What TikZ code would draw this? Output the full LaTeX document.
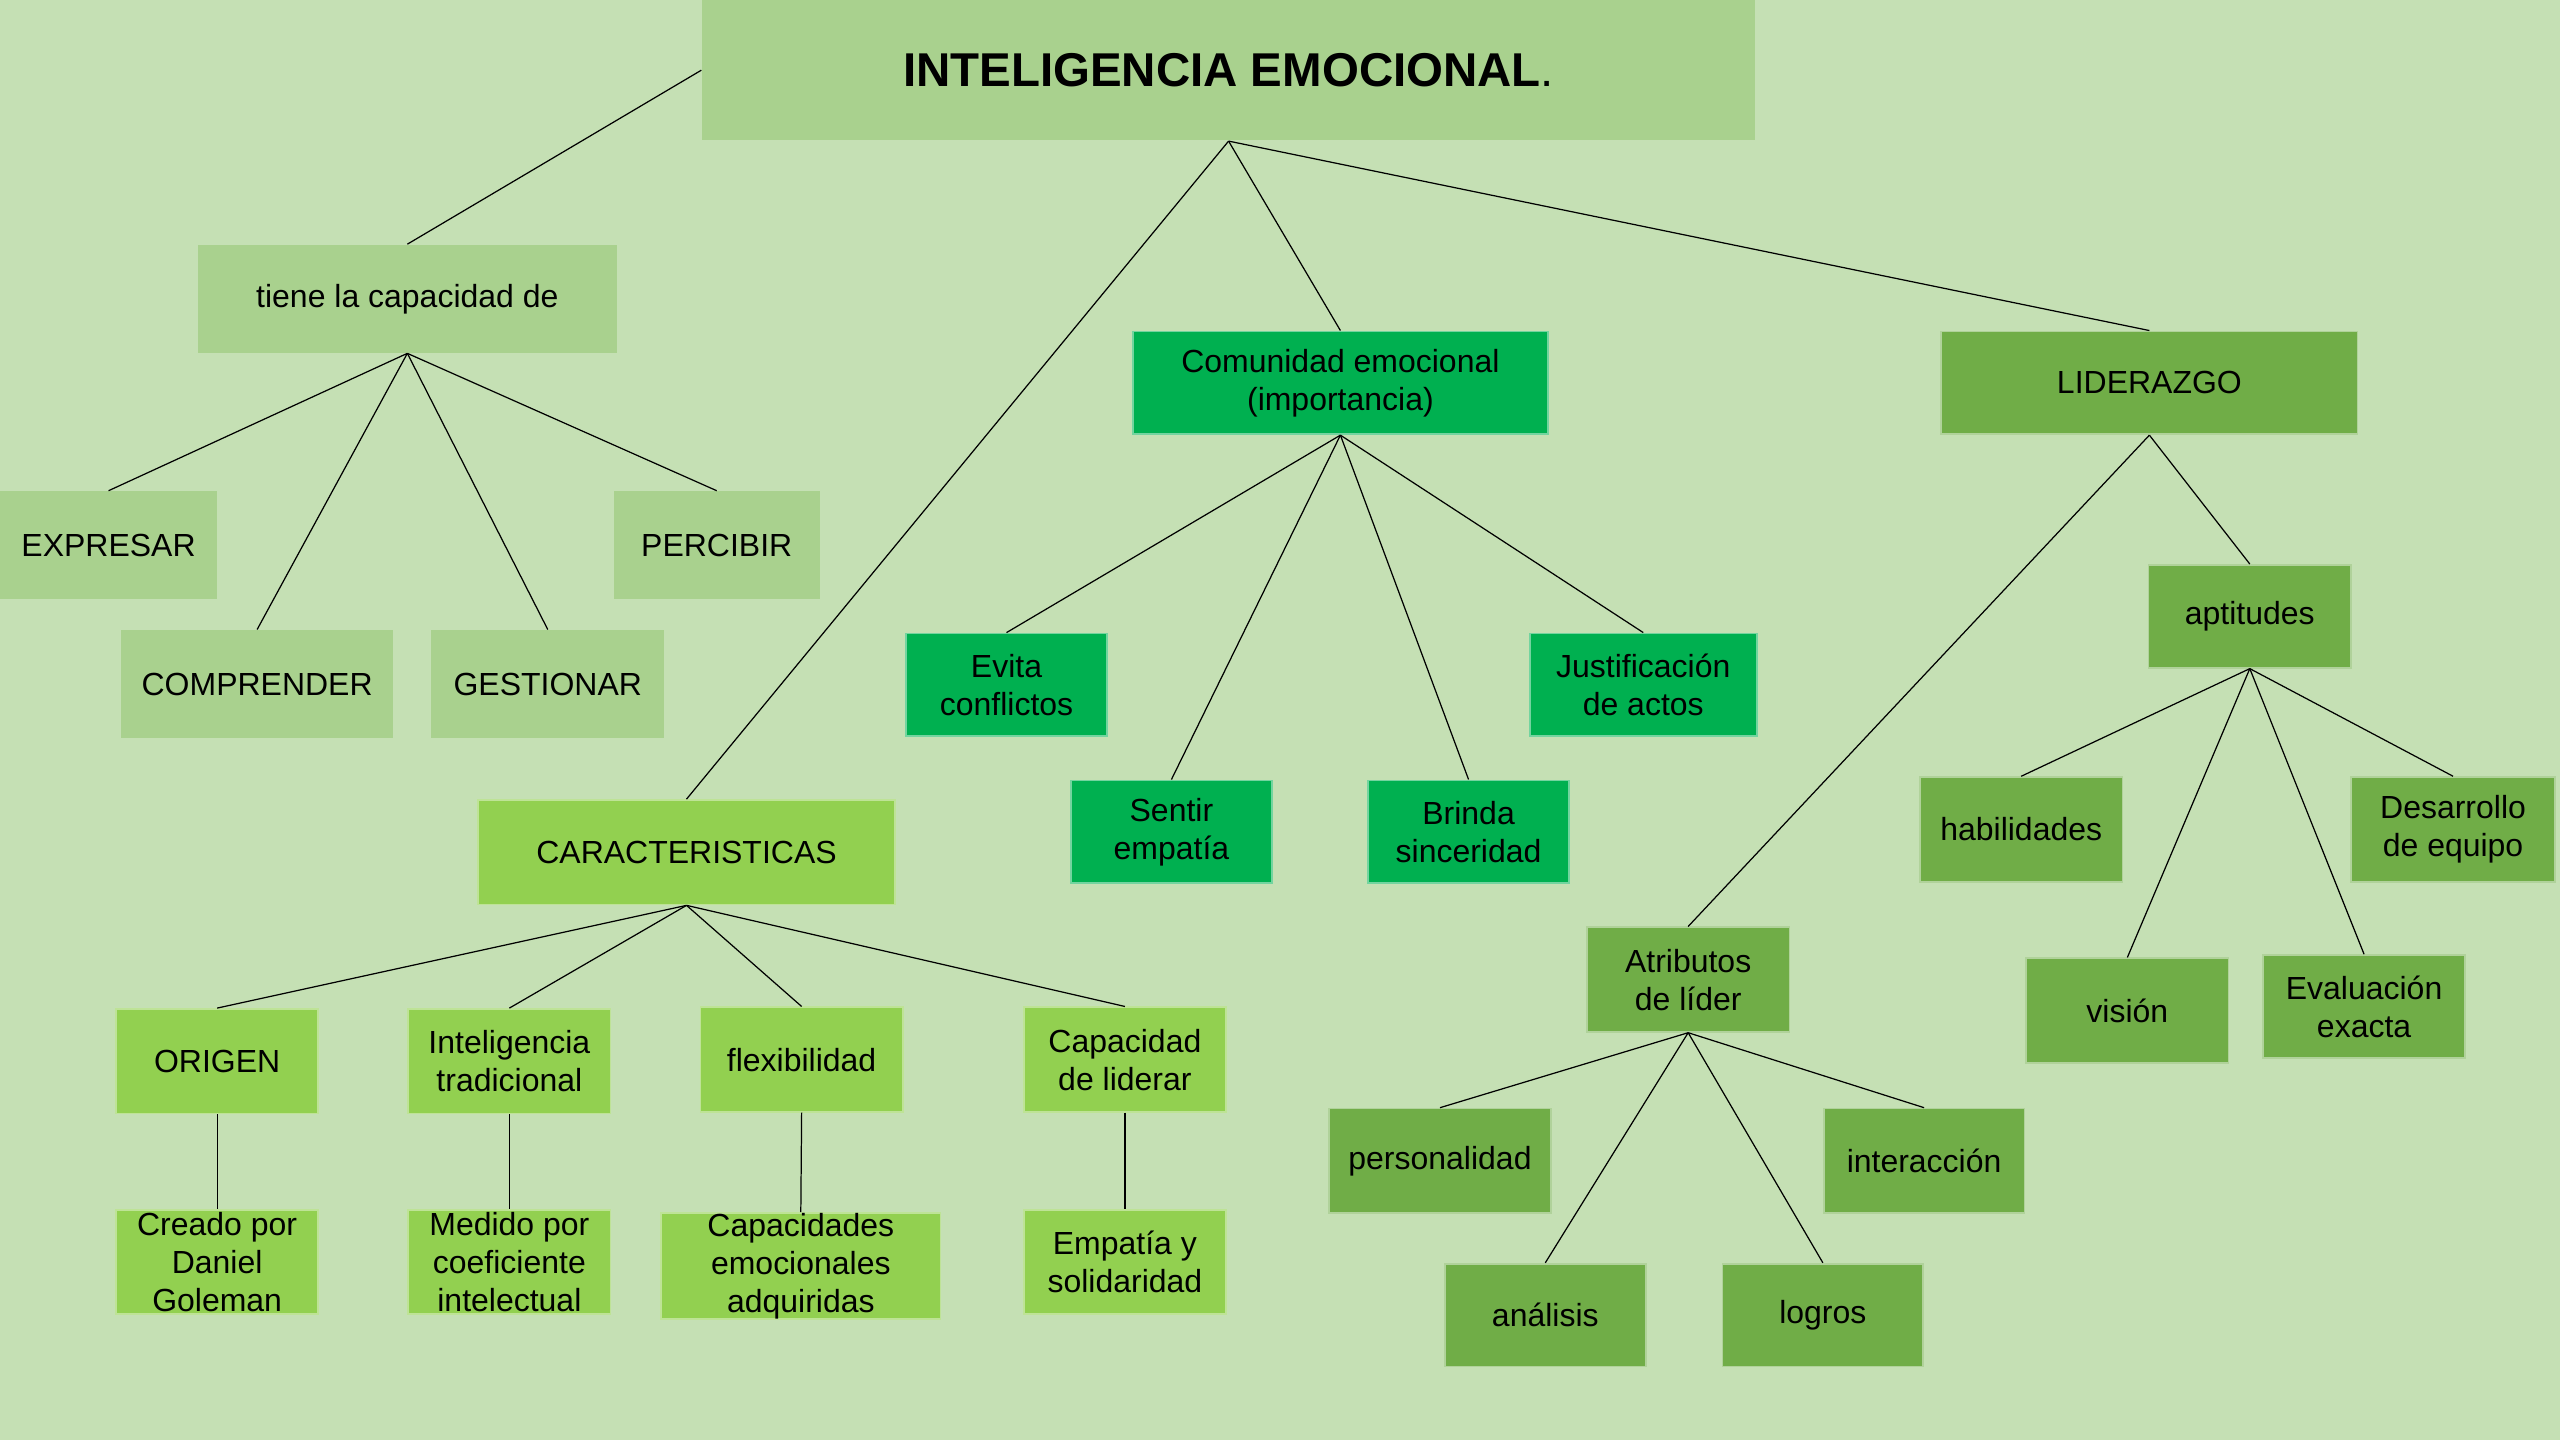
\documentclass[tikz,border=0pt]{standalone}
\usepackage{fontspec}
\setmainfont{Liberation Sans}
\definecolor{bgc}{HTML}{C5E0B4}
\definecolor{paleg}{HTML}{A9D18E}
\definecolor{brightg}{HTML}{00B050}
\definecolor{leaderg}{HTML}{70AD47}
\definecolor{limeg}{HTML}{92D050}
\tikzset{
  wh/.style 2 args={minimum width=#1*0.016327cm, minimum height=#2*0.016327cm},
  box/.style={rectangle, inner sep=0pt, align=center, text=black,
    font=\fontsize{9.1}{10.8}\selectfont},
  palebox/.style={box, fill=paleg},
  commbox/.style={box, fill=brightg, draw=brightg!55!white, line width=0.5pt},
  leadbox/.style={box, fill=leaderg, draw=leaderg!55!white, line width=0.5pt},
  carbox/.style={box, fill=limeg, draw=limeg!60!white, line width=0.5pt},
  link/.style={draw=black, line width=0.35pt}
}
\begin{document}
\begin{tikzpicture}[x=0.016327cm, y=-0.016327cm]
\fill[bgc] (0,0) rectangle (1568,882);
\useasboundingbox (0,0) rectangle (1568,882);

% title
\node[palebox, wh={645}{86}, font=\fontsize{13.5}{16}\selectfont] (title) at (752.5,43)
  {\textbf{INTELIGENCIA EMOCIONAL}.};

% left branch
\node[palebox, wh={257}{66}] (tiene) at (249.5,183) {tiene la capacidad de};
\node[palebox, wh={133}{66}] (expresar) at (66.5,334) {EXPRESAR};
\node[palebox, wh={167}{66}] (comprender) at (157.5,419) {COMPRENDER};
\node[palebox, wh={143}{66}] (gestionar) at (335.5,419) {GESTIONAR};
\node[palebox, wh={126}{66}] (percibir) at (439,334) {PERCIBIR};

% comunidad branch
\node[commbox, wh={254}{63}] (comunidad) at (821,234.5) {Comunidad emocional\\(importancia)};
\node[commbox, wh={123}{63}] (evita) at (616.5,419.5) {Evita\\conflictos};
\node[commbox, wh={123}{63}] (sentir) at (717.5,509.5) {Sentir\\empatía};
\node[commbox, wh={123}{63}] (brinda) at (899.5,509.5) {Brinda\\sinceridad};
\node[commbox, wh={139}{63}] (justif) at (1006.5,419.5) {Justificación\\de actos};

% liderazgo branch
\node[leadbox, wh={255}{63}] (lider) at (1316.5,234.5) {LIDERAZGO};
\node[leadbox, wh={124}{63}] (aptitudes) at (1378,377.5) {aptitudes};
\node[leadbox, wh={124}{64}] (habil) at (1238,508) {habilidades};
\node[leadbox, wh={125}{64}] (desarrollo) at (1502.5,508) {Desarrollo\\de equipo};
\node[leadbox, wh={124}{64}] (vision) at (1303,619) {visión};
\node[leadbox, wh={124}{63}] (evaluacion) at (1448,616.5) {Evaluación\\exacta};
\node[leadbox, wh={124}{64}] (atributos) at (1034,600) {Atributos\\de líder};
\node[leadbox, wh={136}{64}] (personalidad) at (882,711) {personalidad};
\node[leadbox, wh={123}{64}] (interaccion) at (1178.5,711) {interacción};
\node[leadbox, wh={123}{63}] (analisis) at (946.5,805.5) {análisis};
\node[leadbox, wh={123}{63}] (logros) at (1116.5,805.5) {logros};

% caracteristicas branch
\node[carbox, wh={255}{64}] (carac) at (420.5,522) {CARACTERISTICAS};
\node[carbox, wh={124}{64}] (origen) at (133,650) {ORIGEN};
\node[carbox, wh={124}{64}] (inttrad) at (312,650) {Inteligencia\\tradicional};
\node[carbox, wh={124}{64}] (flex) at (491,649) {flexibilidad};
\node[carbox, wh={124}{64}] (capacidad) at (689,649) {Capacidad\\de liderar};
\node[carbox, wh={124}{64}] (creado) at (133,773) {Creado por\\Daniel\\Goleman};
\node[carbox, wh={124}{64}] (medido) at (312,773) {Medido por\\coeficiente\\intelectual};
\node[carbox, wh={171}{65}] (capemo) at (490.5,775.5) {Capacidades\\emocionales\\adquiridas};
\node[carbox, wh={124}{64}] (empatia) at (689,773) {Empatía y\\solidaridad};

% connectors
\draw[link] (title.west) -- (tiene.north);
\draw[link] (title.south) -- (carac.north);
\draw[link] (title.south) -- (comunidad.north);
\draw[link] (title.south) -- (lider.north);

\foreach \c in {expresar,comprender,gestionar,percibir}
  \draw[link] (tiene.south) -- (\c.north);
\foreach \c in {evita,sentir,brinda,justif}
  \draw[link] (comunidad.south) -- (\c.north);
\foreach \c in {atributos,aptitudes}
  \draw[link] (lider.south) -- (\c.north);
\foreach \c in {habil,vision,evaluacion,desarrollo}
  \draw[link] (aptitudes.south) -- (\c.north);
\foreach \c in {personalidad,analisis,logros,interaccion}
  \draw[link] (atributos.south) -- (\c.north);
\foreach \c in {origen,inttrad,flex,capacidad}
  \draw[link] (carac.south) -- (\c.north);
\draw[link] (origen.south) -- (creado.north);
\draw[link] (inttrad.south) -- (medido.north);
\draw[link] (flex.south) -- (capemo.north);
\draw[link] (capacidad.south) -- (empatia.north);
\end{tikzpicture}
\end{document}
